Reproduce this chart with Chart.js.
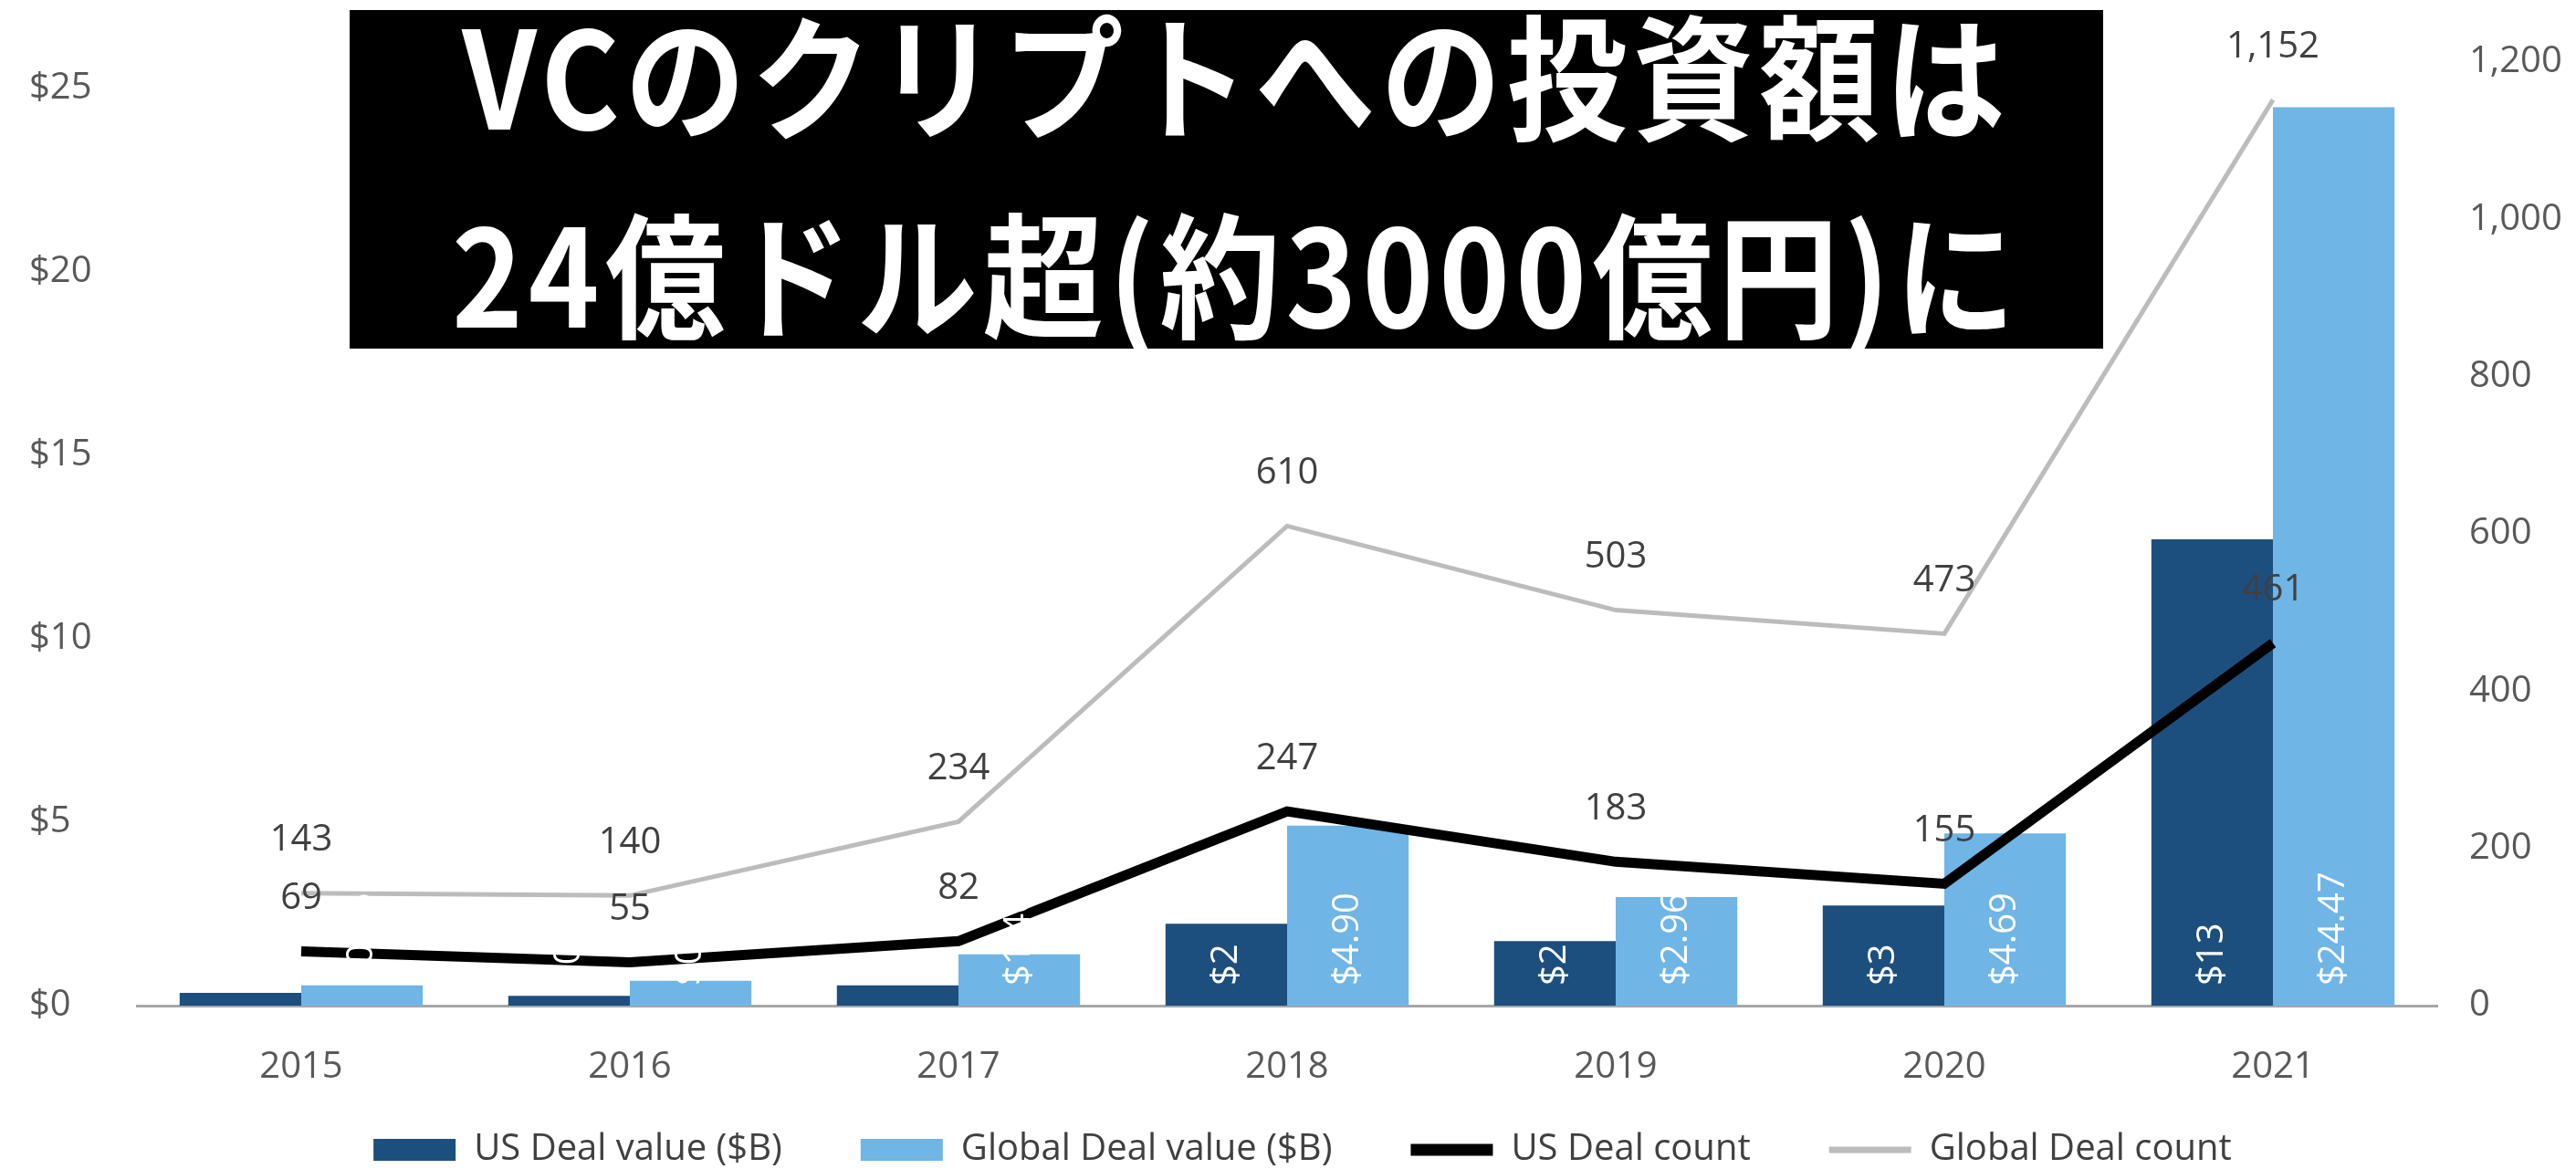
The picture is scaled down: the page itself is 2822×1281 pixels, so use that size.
<!DOCTYPE html>
<html lang="ja">
<head>
<meta charset="utf-8">
<title>VCのクリプトへの投資額</title>
<script src="https://cdn.jsdelivr.net/npm/chart.js@4.4.1/dist/chart.umd.min.js"></script>
<style>
  html, body { margin: 0; padding: 0; background: #fff; }
  #wrap { position: relative; width: 2822px; height: 1281px; }
  #headline {
    position: absolute; left: 383px; top: 11px; width: 1921px; height: 371px;
    box-sizing: border-box; padding-left: 22px; overflow: hidden;
    background: #000; color: #fff;
    font-family: "Noto Sans CJK JP", sans-serif; font-weight: 700;
    font-size: 132px; line-height: 194px; text-align: center; letter-spacing: 6px;
  }
  /* the original glyphs are taller and narrower */
  #headline div { transform: translateY(-18px) scaleY(1.12); }
</style>
</head>
<body>
<div id="wrap">
  <canvas id="chart" width="2822" height="1281"></canvas>
  <div id="headline"><div>VCのクリプトへの投資額は<br>24億ドル超(約3000億円)に</div></div>
</div>
<script>
// data
const years = ['2015', '2016', '2017', '2018', '2019', '2020', '2021'];
const usValue = [0.35, 0.27, 0.55, 2.23, 1.76, 2.73, 12.7];
const globalValue = [0.55, 0.68, 1.40, 4.90, 2.96, 4.69, 24.47];
const usCount = [69, 55, 82, 247, 183, 155, 461];
const globalCount = [143, 140, 234, 610, 503, 473, 1152];
const leftTicks = [0, 5, 10, 15, 20, 25];
const rightTicks = [0, 200, 400, 600, 800, 1000, 1200];

const tickFont = { family: 'Open Sans', size: 40 };
const tickColor = '#595959';

// labels: counts above the lines, values rotated inside the bars
const valueLabels = {
  id: 'valueLabels',
  afterDatasetsDraw(chart) {
    const ctx = chart.ctx;
    ctx.save();
    ctx.font = '40px "Open Sans"';
    ctx.fillStyle = '#404040';
    ctx.textAlign = 'center';
    ctx.textBaseline = 'middle';
    [2, 3].forEach(i => {
      chart.getDatasetMeta(i).data.forEach((pt, j) => {
        ctx.fillText(chart.data.datasets[i].data[j].toLocaleString('en-US'), pt.x, pt.y - 58);
      });
    });

    ctx.fillStyle = '#fff';
    ctx.textAlign = 'left';
    [0, 1].forEach(i => {
      chart.getDatasetMeta(i).data.forEach((bar, j) => {
        const v = chart.data.datasets[i].data[j];
        const txt = i === 0 ? '$' + Math.round(v) : '$' + v.toFixed(2);
        ctx.save();
        ctx.translate(bar.x, bar.base - 22);
        ctx.rotate(-Math.PI / 2);
        ctx.fillText(txt, 0, 0);
        ctx.restore();
      });
    });
    ctx.restore();
  }
};

const ctx = document.getElementById('chart').getContext('2d');
new Chart(ctx, {
  type: 'bar',
  data: {
    labels: years,
    datasets: [
      {
        label: 'US Deal value ($B)', data: usValue, backgroundColor: '#1d4f7e',
        yAxisID: 'y', order: 2, categoryPercentage: 0.74, barPercentage: 1
      },
      {
        label: 'Global Deal value ($B)', data: globalValue, backgroundColor: '#6fb5e6',
        yAxisID: 'y', order: 2, categoryPercentage: 0.74, barPercentage: 1
      },
      {
        type: 'line', label: 'US Deal count', data: usCount, borderColor: '#000000',
        borderWidth: 11, pointRadius: 0, yAxisID: 'y1', order: 1
      },
      {
        type: 'line', label: 'Global Deal count', data: globalCount, borderColor: '#bcbcbc',
        borderWidth: 5, pointRadius: 0, yAxisID: 'y1', order: 0
      }
    ]
  },
  options: {
    responsive: false,
    animation: false,
    devicePixelRatio: 1,
    layout: { padding: { left: 32, right: 0, top: 68, bottom: -9 } },
    scales: {
      x: {
        grid: { display: false, drawTicks: false },
        border: { display: true, color: '#a6a6a6', width: 3 },
        ticks: { color: tickColor, font: tickFont, padding: 44 },
        afterFit: s => {
          s.height = 52;
          // the year labels hang below this thin box, so don't clip them to it
          s._computeLabelArea = () => null;
        }
      },
      y: {
        position: 'left', min: 0, max: 25.7,
        grid: { display: false, drawTicks: false },
        border: { display: false },
        ticks: { color: tickColor, font: tickFont, crossAlign: 'far', callback: v => '$' + v },
        afterBuildTicks: s => { s.ticks = leftTicks.map(v => ({ value: v })); },
        afterFit: s => { s.width = 118; }
      },
      y1: {
        position: 'right', min: 0, max: 1200,
        grid: { display: false, drawTicks: false },
        border: { display: false },
        ticks: { color: tickColor, font: tickFont, padding: 35, callback: v => v.toLocaleString('en-US') },
        afterBuildTicks: s => { s.ticks = rightTicks.map(v => ({ value: v })); },
        afterFit: s => { s.width = 152; }
      }
    },
    plugins: {
      tooltip: { enabled: false },
      legend: {
        position: 'bottom',
        labels: {
          usePointStyle: true, pointStyleWidth: 90, boxHeight: 24,
          padding: 86, color: '#404040', font: { family: 'Open Sans', size: 40 },
          generateLabels: chart => chart.data.datasets.map((ds, i) => ({
            text: ds.label,
            datasetIndex: i,
            fillStyle: ds.type === 'line' ? ds.borderColor : ds.backgroundColor,
            strokeStyle: ds.type === 'line' ? ds.borderColor : ds.backgroundColor,
            lineWidth: ds.type === 'line' ? ds.borderWidth + 2 : 0,
            pointStyle: ds.type === 'line' ? 'line' : 'rect',
            fontColor: '#404040',
            hidden: false
          }))
        }
      }
    }
  },
  plugins: [valueLabels]
});
</script>
</body>
</html>
